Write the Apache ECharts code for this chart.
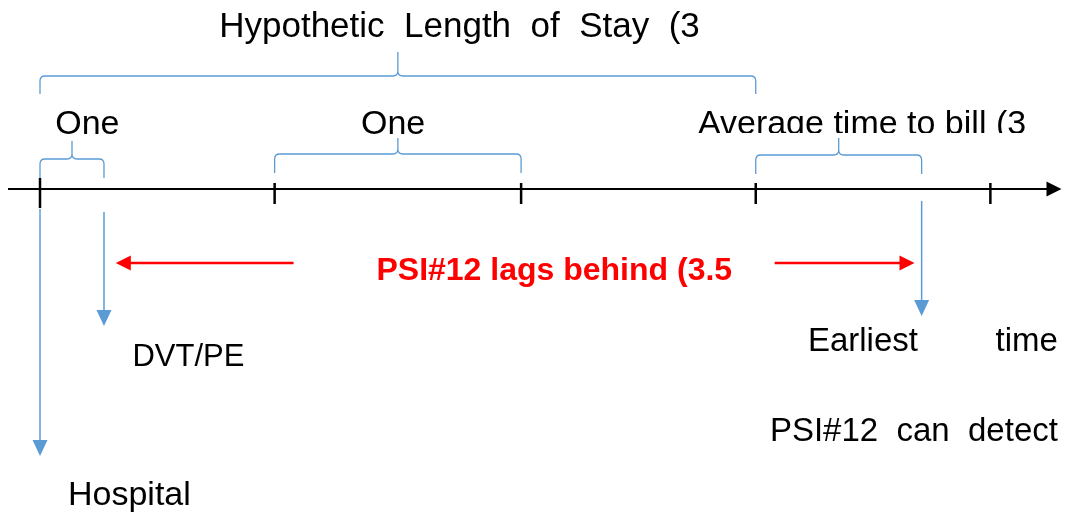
<!DOCTYPE html>
<html>
<head>
<meta charset="utf-8">
<script src="https://cdn.jsdelivr.net/npm/echarts@6/dist/echarts.min.js"></script>
<style>
  html, body { margin: 0; background: #fff; }
  #chart { width: 1065px; height: 512px; }
</style>
</head>
<body>
<div id="chart"></div>
<script>
// timeline measured in days (one tick step ~ one day)
const tickDays = [0, 0.99, 2.03, 3.02, 4.01];
const timelineSpan = [-0.135, 4.31];
const braceSpans = [[0, 3.02], [0, 0.27], [0.99, 2.03], [3.02, 3.72]];
const braceLabels = ['Hypothetic  Length  of  Stay  (3', 'One', 'One', 'Average time to bill (3'];
const eventDays = [0, 0.27, 3.72];
const eventLabels = ['Hospital', 'DVT/PE', 'Earliest'];
const lagArrows = [[1.07, 0.32], [3.1, 3.69]];
const lagLabel = 'PSI#12 lags behind (3.5';
const extraLabels = ['time', 'PSI#12  can  detect'];

// layout (pixels on the vertical, days on the horizontal)
const AXIS_Y = 189;
const braceLevels = [[76, 94, 52], [159, 178, 141], [154, 173, 138], [155, 174, 138]];
const braceLabelPos = [[1.77, 27, 'center', 35], [0.2, 125, 'center', 34], [1.49, 125, 'center', 34], [2.776, 125, 'left', 34]];
const eventArrowY = [[209, 456], [212, 326], [201, 316]];
const eventLabelPos = [[0.118, 496, 'left', 34], [0.39, 357, 'left', 31], [3.24, 342, 'left', 33]];
const extraLabelPos = [[4.295, 342, 'right', 33], [4.295, 432, 'right', 33]];
const LAG_Y = 263;

const BLUE = '#5B9BD5';
const RED = '#FF0000';
const FONT = '"Liberation Sans", sans-serif';

const chart = echarts.init(document.getElementById('chart'));

function bracePath(x0, x1, yt, yb, yp) {
  const r = 5;
  const xm = (x0 + x1) / 2;
  return `M${x0},${yb} L${x0},${yt + r} Q${x0},${yt} ${x0 + r},${yt} ` +
    `L${xm - r},${yt} Q${xm},${yt} ${xm},${yt - r} L${xm},${yp} ` +
    `M${xm},${yt - r} Q${xm},${yt} ${xm + r},${yt} ` +
    `L${x1 - r},${yt} Q${x1},${yt} ${x1},${yt + r} L${x1},${yb}`;
}

function textEl(text, p, align, size, color, bold) {
  return {
    type: 'text',
    style: {
      x: p[0], y: p[1], text,
      fill: color || '#000',
      font: `${bold ? 'bold ' : ''}${size}px ${FONT}`,
      textAlign: align,
      textVerticalAlign: 'middle'
    }
  };
}

function downArrow(x, y0, y1, color) {
  return {
    type: 'group',
    children: [
      { type: 'line', shape: { x1: x, y1: y0, x2: x, y2: y1 - 14 }, style: { stroke: color, lineWidth: 1.5 } },
      { type: 'polygon', shape: { points: [[x - 7.5, y1 - 16], [x + 7.5, y1 - 16], [x, y1]] }, style: { fill: color } }
    ]
  };
}

function hArrow(x0, x1, y, color) {
  const dir = x1 > x0 ? 1 : -1;
  return {
    type: 'group',
    children: [
      { type: 'line', shape: { x1: x0, y1: y, x2: x1 - dir * 12, y2: y }, style: { stroke: color, lineWidth: 2.5 } },
      { type: 'polygon', shape: { points: [[x1 - dir * 15, y - 7.5], [x1 - dir * 15, y + 7.5], [x1, y]] }, style: { fill: color } }
    ]
  };
}

const series = [
  {
    // timeline with arrow head
    type: 'custom', z: 2,
    data: [timelineSpan],
    renderItem(params, api) {
      const a = api.coord([api.value(0), AXIS_Y]);
      const b = api.coord([api.value(1), AXIS_Y]);
      return {
        type: 'group',
        children: [
          { type: 'line', shape: { x1: a[0], y1: a[1], x2: b[0] - 12, y2: b[1] }, style: { stroke: '#000', lineWidth: 2 } },
          { type: 'polygon', shape: { points: [[b[0] - 15, b[1] - 7.5], [b[0] - 15, b[1] + 7.5], [b[0], b[1]]] }, style: { fill: '#000' } }
        ]
      };
    }
  },
  {
    type: 'custom', z: 3,
    data: tickDays.map(d => [d]),
    renderItem(params, api) {
      const first = params.dataIndex === 0;
      const a = api.coord([api.value(0), first ? 178 : 183]);
      const b = api.coord([api.value(0), first ? 208 : 204]);
      return { type: 'line', shape: { x1: a[0], y1: a[1], x2: b[0], y2: b[1] }, style: { stroke: '#000', lineWidth: 2.5 } };
    }
  },
  {
    // labels above the braces
    type: 'custom', z: 4,
    data: braceLabels.map((t, i) => [braceLabelPos[i][0], braceLabelPos[i][1]]),
    renderItem(params, api) {
      const p = api.coord([api.value(0), api.value(1)]);
      const i = params.dataIndex;
      const els = [textEl(braceLabels[i], p, braceLabelPos[i][2], braceLabelPos[i][3])];
      if (i === 3) {
        // the long label is cut off at the bottom in the original
        const c = api.coord([api.value(0), 133]);
        els.push({ type: 'rect', shape: { x: c[0] - 5, y: c[1], width: 360, height: 16 }, style: { fill: '#fff' } });
      }
      return { type: 'group', children: els };
    }
  },
  {
    type: 'custom', z: 5,
    data: braceSpans,
    renderItem(params, api) {
      const [yt, yb, yp] = braceLevels[params.dataIndex];
      const a = api.coord([api.value(0), yt]);
      const b = api.coord([api.value(1), yt]);
      const dy = api.coord([api.value(0), yb])[1] - a[1];
      const dp = api.coord([api.value(0), yp])[1] - a[1];
      return {
        type: 'path',
        shape: { pathData: bracePath(a[0], b[0], a[1], a[1] + dy, a[1] + dp) },
        style: { stroke: BLUE, lineWidth: 1.3, fill: null }
      };
    }
  },
  {
    type: 'custom', z: 4,
    data: eventDays.map(d => [d]),
    renderItem(params, api) {
      const i = params.dataIndex;
      const top = api.coord([api.value(0), eventArrowY[i][0]]);
      const bot = api.coord([api.value(0), eventArrowY[i][1]]);
      const lp = api.coord([eventLabelPos[i][0], eventLabelPos[i][1]]);
      return {
        type: 'group',
        children: [
          downArrow(top[0], top[1], bot[1], BLUE),
          textEl(eventLabels[i], lp, eventLabelPos[i][2], eventLabelPos[i][3])
        ]
      };
    }
  },
  {
    type: 'custom', z: 4,
    data: extraLabels.map((t, i) => [extraLabelPos[i][0], extraLabelPos[i][1]]),
    renderItem(params, api) {
      const i = params.dataIndex;
      const p = api.coord([api.value(0), api.value(1)]);
      return textEl(extraLabels[i], p, extraLabelPos[i][2], extraLabelPos[i][3]);
    }
  },
  {
    type: 'custom', z: 4,
    data: lagArrows,
    renderItem(params, api) {
      const a = api.coord([api.value(0), LAG_Y]);
      const b = api.coord([api.value(1), LAG_Y]);
      const els = [hArrow(a[0], b[0], a[1], RED)];
      if (params.dataIndex === 0) {
        const m = api.coord([2.17, 271]);
        els.push(textEl(lagLabel, m, 'center', 32, RED, true));
      }
      return { type: 'group', children: els };
    }
  }
];

chart.setOption({
  animation: false,
  backgroundColor: '#fff',
  grid: { left: 0, right: 0, top: 0, bottom: 0 },
  xAxis: { type: 'value', min: -40 / 237, max: 1025 / 237, show: false },
  yAxis: { type: 'value', min: 0, max: 512, inverse: true, show: false },
  series
});
</script>
</body>
</html>
